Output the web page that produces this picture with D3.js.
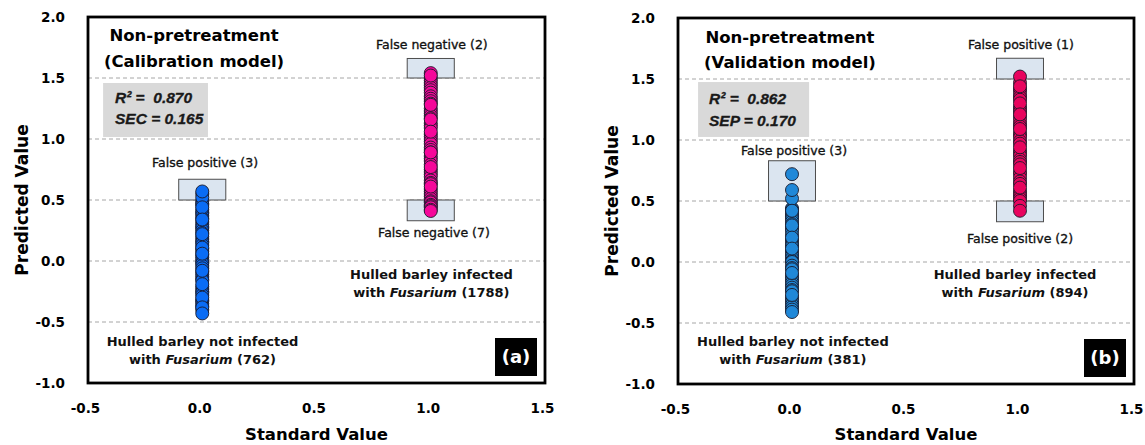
<!DOCTYPE html>
<html>
<head>
<meta charset="utf-8">
<script src="https://cdn.jsdelivr.net/npm/d3@7"></script>
<style>
  html, body { margin: 0; padding: 0; background: #fff; }
  svg { display: block; }
</style>
</head>
<body>
<svg id="chart" width="1145" height="445"></svg>
<script>
// Standard (reference) value of each class
const standardNotInfected = 0;
const standardInfected = 1;

// Predicted values, calibration set
const calNotInfected = [0.49, 0.47, 0.46, 0.42, 0.40, 0.39, 0.37, 0.35, 0.32, 0.30, 0.28, 0.27, 0.25, 0.23,
  0.20, 0.18, 0.16, 0.15, 0.13, 0.10, 0.08, 0.05, 0.03, 0.01, -0.01, -0.02, -0.04, -0.06, -0.09, -0.11,
  -0.13, -0.15, -0.16, -0.21, -0.23, -0.25, -0.26, -0.28, -0.32, -0.33, -0.35, -0.37, -0.40,
  0.55, 0.52, 0.57, 0.44, 0.34, 0.22, 0.11, 0.06, -0.08, -0.19, -0.30, -0.38, -0.43];
const calInfected = [1.50, 1.48, 1.46, 1.44, 1.42, 1.40, 1.38, 1.35, 1.33, 1.31, 1.29, 1.25, 1.23, 1.21,
  1.19, 1.17, 1.13, 1.11, 1.09, 1.04, 1.02, 1.00, 0.98, 0.96, 0.93, 0.91, 0.89, 0.86, 0.84, 0.82,
  0.79, 0.75, 0.73, 0.71, 0.69, 0.66, 0.64, 0.63, 0.59, 0.57, 0.55, 0.53, 0.51,
  0.49, 0.48, 0.46, 0.45, 0.44, 0.42, 0.41, 1.54, 1.52,
  1.28, 1.16, 1.06, 0.89, 0.77, 0.61];

// Predicted values, validation set
const valNotInfected = [0.44, 0.43, 0.40, 0.38, 0.37, 0.35, 0.33, 0.31, 0.29, 0.27, 0.25, 0.22, 0.18,
  0.16, 0.14, 0.13, 0.09, 0.07, 0.05, 0.03, 0.01, 0.00, -0.03, -0.05, -0.06, -0.11, -0.13, -0.15,
  -0.17, -0.19, -0.21, -0.23, -0.24, -0.29, -0.31, -0.33, -0.35, -0.37, -0.39,
  0.52, 0.72, 0.59, 0.42, 0.30, 0.20, 0.11, -0.09, -0.27, -0.41];
const valInfected = [1.47, 1.42, 1.40, 1.37, 1.35, 1.33, 1.27, 1.25, 1.23, 1.19, 1.16, 1.13, 1.11,
  1.06, 1.04, 1.02, 0.99, 0.97, 0.91, 0.89, 0.87, 0.84, 0.82, 0.80, 0.74, 0.72, 0.69, 0.66, 0.64,
  0.58, 0.56, 0.54, 0.52, 0.50,
  1.52, 1.44, 1.30, 1.21, 1.09, 0.94, 0.77, 0.61, 0.46, 0.42];

// Axis ticks
const xTicks = [-0.5, 0, 0.5, 1, 1.5];
const yTicks = [-1, -0.5, 0, 0.5, 1, 1.5, 2];
const gridValues = [-0.5, 0, 0.5, 1, 1.5];

// Model statistics
const calStats = ["R² =  0.870", "SEC = 0.165"];
const valStats = ["R² =  0.862", "SEP = 0.170"];

// Sample counts
const calCounts = [762, 1788];
const valCounts = [381, 894];

// Misclassified regions: [standard value, lower predicted, upper predicted]
const calRegions = [[0, 0.5, 0.67], [1, 1.5, 1.66], [1, 0.33, 0.5]];
const valRegions = [[0, 0.5, 0.83], [1, 1.5, 1.67], [1, 0.33, 0.5]];
const calRegionLabels = ["False positive (3)", "False negative (2)", "False negative (7)"];
const valRegionLabels = ["False positive (3)", "False positive (1)", "False positive (2)"];

const FONT = "'DejaVu Sans', 'Liberation Sans', Arial, sans-serif";

const panels = [
  {
    x0: 88, x1: 545, y0: 383, y1: 17,
    notInfected: calNotInfected, infected: calInfected,
    blue: "#0a6cf5", pink: "#f5079a",
    title: "(Calibration model)", stats: calStats, counts: calCounts,
    regions: calRegions, regionLabels: calRegionLabels, letter: "(a)",
    // annotation anchors in data units
    titleAt: [-0.036, 1.803, 1.59],
    statsBox: [-0.434, 0.025, 1.459, 1.016], statsAt: [-0.382, 1.295, 1.123],
    labelAt: [[0.012, 0.77], [1.005, 1.738], [1.014, 0.197]],
    infAt: [1.003, -0.148, -0.295], notAt: [0.001, -0.697, -0.844]
  },
  {
    x0: 678, x1: 1134, y0: 384, y1: 18,
    notInfected: valNotInfected, infected: valInfected,
    blue: "#2088d8", pink: "#e8045e",
    title: "(Validation model)", stats: valStats, counts: valCounts,
    regions: valRegions, regionLabels: valRegionLabels, letter: "(b)",
    titleAt: [-0.009, 1.795, 1.59],
    statsBox: [-0.412, 0.075, 1.475, 1.025], statsAt: [-0.364, 1.295, 1.115],
    labelAt: [[0.009, 0.877], [1.004, 1.746], [1.0, 0.156]],
    infAt: [0.978, -0.139, -0.287], notAt: [0.004, -0.689, -0.836]
  }
];

const svg = d3.select("#chart");
const fmt = d => d.toFixed(1);

panels.forEach(p => {
  const x = d3.scaleLinear().domain([-0.5, 1.5]).range([p.x0, p.x1]);
  const y = d3.scaleLinear().domain([-1, 2]).range([p.y0, p.y1]);
  const g = svg.append("g");

  // dashed horizontal gridlines
  g.selectAll("line.grid").data(gridValues).join("line")
    .attr("class", "grid")
    .attr("x1", p.x0).attr("x2", p.x1)
    .attr("y1", d => y(d)).attr("y2", d => y(d))
    .attr("stroke", "#a6a6a6").attr("stroke-width", 1)
    .attr("stroke-dasharray", "4,3");

  // statistics box
  g.append("rect")
    .attr("x", x(p.statsBox[0])).attr("y", y(p.statsBox[2]))
    .attr("width", x(p.statsBox[1]) - x(p.statsBox[0]))
    .attr("height", y(p.statsBox[3]) - y(p.statsBox[2]))
    .attr("fill", "#d9d9d9");
  p.stats.forEach((s, i) => {
    g.append("text")
      .attr("x", x(p.statsAt[0])).attr("y", y(p.statsAt[1 + i]))
      .attr("font-family", "'Liberation Sans', Arial, sans-serif")
      .attr("font-weight", "bold").attr("font-style", "italic")
      .attr("font-size", 15.5).attr("fill", "#1a1a1a")
      .attr("stroke", "#1a1a1a").attr("stroke-width", 0.3)
      .style("white-space", "pre")
      .text(s);
  });

  // misclassified regions
  const halfW = 0.103;
  g.selectAll("rect.region").data(p.regions).join("rect")
    .attr("class", "region")
    .attr("x", d => x(d[0] - halfW))
    .attr("width", d => x(d[0] + halfW) - x(d[0] - halfW))
    .attr("y", d => y(d[2]))
    .attr("height", d => y(d[1]) - y(d[2]))
    .attr("fill", "#dbe5f0").attr("stroke", "#4d4d4d").attr("stroke-width", 1);

  // predicted points
  const pts = p.notInfected.map(v => ({x: standardNotInfected, y: v, c: p.blue}))
    .concat(p.infected.map(v => ({x: standardInfected, y: v, c: p.pink})));
  g.selectAll("circle").data(pts).join("circle")
    .attr("cx", d => x(d.x)).attr("cy", d => y(d.y))
    .attr("r", 6.5)
    .attr("fill", d => d.c)
    .attr("stroke", "#1a1a2a").attr("stroke-width", 0.9);

  // frame
  g.append("rect")
    .attr("x", p.x0).attr("y", p.y1)
    .attr("width", p.x1 - p.x0).attr("height", p.y0 - p.y1)
    .attr("fill", "none").attr("stroke", "#000").attr("stroke-width", 2.8);

  // axes
  const yAxis = d3.axisLeft(y).tickValues(yTicks).tickFormat(fmt).tickSize(0).tickPadding(23);
  const ya = g.append("g").attr("transform", `translate(${p.x0},0)`).call(yAxis);
  const xAxis = d3.axisBottom(x).tickValues(xTicks).tickFormat(fmt).tickSize(0).tickPadding(20);
  const xa = g.append("g").attr("transform", `translate(0,${p.y0})`).call(xAxis);
  [ya, xa].forEach(a => {
    a.select(".domain").remove();
    a.selectAll("text")
      .attr("font-family", FONT).attr("font-weight", "bold")
      .attr("font-size", 13.5).attr("fill", "#000");
  });
  xa.selectAll("text").attr("dx", -3);

  // axis titles
  g.append("text")
    .attr("transform", `translate(${p.x0 - 66},${(p.y0 + p.y1) / 2}) rotate(-90)`)
    .attr("text-anchor", "middle").attr("dy", "0.35em")
    .attr("font-family", FONT).attr("font-weight", "bold").attr("font-size", 17)
    .text("Predicted Value");
  g.append("text")
    .attr("x", (p.x0 + p.x1) / 2).attr("y", 440)
    .attr("text-anchor", "middle")
    .attr("font-family", FONT).attr("font-weight", "bold").attr("font-size", 16.5)
    .text("Standard Value");

  // panel title
  ["Non-pretreatment", p.title].forEach((t, i) => {
    g.append("text")
      .attr("x", x(p.titleAt[0])).attr("y", y(p.titleAt[1 + i]))
      .attr("text-anchor", "middle")
      .attr("font-family", FONT).attr("font-weight", "bold").attr("font-size", 16.5)
      .text(t);
  });

  // region labels
  p.regionLabels.forEach((t, i) => {
    g.append("text")
      .attr("x", x(p.labelAt[i][0])).attr("y", y(p.labelAt[i][1]))
      .attr("text-anchor", "middle")
      .attr("font-family", FONT).attr("font-size", 12.5).attr("fill", "#111")
      .attr("stroke", "#111").attr("stroke-width", 0.35)
      .text(t);
  });

  // class labels
  const classLabel = (at, first, count) => {
    g.append("text")
      .attr("x", x(at[0])).attr("y", y(at[1]))
      .attr("text-anchor", "middle")
      .attr("font-family", FONT).attr("font-weight", "bold").attr("font-size", 13)
      .attr("fill", "#111")
      .text(first);
    const t2 = g.append("text")
      .attr("x", x(at[0])).attr("y", y(at[2]))
      .attr("text-anchor", "middle")
      .attr("font-family", FONT).attr("font-weight", "bold").attr("font-size", 13)
      .attr("fill", "#111");
    t2.append("tspan").text("with ");
    t2.append("tspan").attr("font-style", "italic").text("Fusarium");
    t2.append("tspan").text(` (${count})`);
  };
  classLabel(p.infAt, "Hulled barley infected", p.counts[1]);
  classLabel(p.notAt, "Hulled barley not infected", p.counts[0]);

  // panel letter
  g.append("rect")
    .attr("x", p.x1 - 50).attr("y", p.y0 - 45)
    .attr("width", 42).attr("height", 38)
    .attr("fill", "#000");
  g.append("text")
    .attr("x", p.x1 - 29).attr("y", p.y0 - 26)
    .attr("dy", "0.35em").attr("text-anchor", "middle")
    .attr("font-family", FONT).attr("font-weight", "bold").attr("font-size", 18)
    .attr("fill", "#fff")
    .text(p.letter);
});
</script>
</body>
</html>
